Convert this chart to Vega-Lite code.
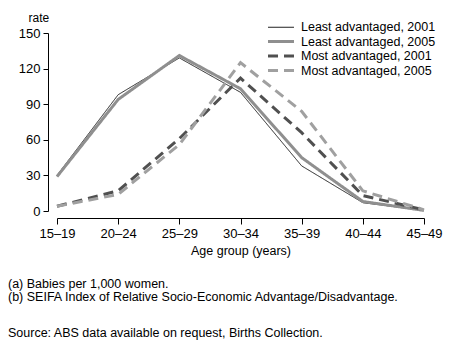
{
  "$schema": "https://vega.github.io/schema/vega-lite/v6.json",
  "autosize": {"type": "none"},
  "width": 367,
  "height": 178,
  "padding": {"left": 57, "top": 33, "right": 35, "bottom": 140},
  "background": "white",
  "config": {
    "font": "Liberation Sans",
    "view": {"stroke": null},
    "axis": {"labelColor": "black", "titleColor": "black", "domainColor": "black", "tickColor": "black", "labelFontWeight": "normal", "titleFontWeight": "normal", "grid": false}
  },
  "title": {
    "text": ["(a) Babies per 1,000 women.", "(b) SEIFA Index of Relative Socio-Economic Advantage/Disadvantage."],
    "subtitle": "Source: ABS data available on request, Births Collection.",
    "orient": "bottom",
    "anchor": "start",
    "frame": "group",
    "dx": -49,
    "offset": 21,
    "fontSize": 12.5,
    "fontWeight": "normal",
    "lineHeight": 13,
    "color": "black",
    "subtitleFontSize": 12.5,
    "subtitleColor": "black",
    "subtitlePadding": 24,
    "font": "Liberation Sans",
    "subtitleFont": "Liberation Sans"
  },
  "data": {
    "values": [
      {"age": "15–19", "series": "Least advantaged, 2001", "rate": 30},
      {"age": "20–24", "series": "Least advantaged, 2001", "rate": 98},
      {"age": "25–29", "series": "Least advantaged, 2001", "rate": 129},
      {"age": "30–34", "series": "Least advantaged, 2001", "rate": 100},
      {"age": "35–39", "series": "Least advantaged, 2001", "rate": 38},
      {"age": "40–44", "series": "Least advantaged, 2001", "rate": 7},
      {"age": "45–49", "series": "Least advantaged, 2001", "rate": 0.5},
      {"age": "15–19", "series": "Least advantaged, 2005", "rate": 29},
      {"age": "20–24", "series": "Least advantaged, 2005", "rate": 94},
      {"age": "25–29", "series": "Least advantaged, 2005", "rate": 131},
      {"age": "30–34", "series": "Least advantaged, 2005", "rate": 103},
      {"age": "35–39", "series": "Least advantaged, 2005", "rate": 45},
      {"age": "40–44", "series": "Least advantaged, 2005", "rate": 8},
      {"age": "45–49", "series": "Least advantaged, 2005", "rate": 0.5},
      {"age": "15–19", "series": "Most advantaged, 2001", "rate": 4},
      {"age": "20–24", "series": "Most advantaged, 2001", "rate": 17},
      {"age": "25–29", "series": "Most advantaged, 2001", "rate": 61},
      {"age": "30–34", "series": "Most advantaged, 2001", "rate": 112},
      {"age": "35–39", "series": "Most advantaged, 2001", "rate": 66},
      {"age": "40–44", "series": "Most advantaged, 2001", "rate": 13},
      {"age": "45–49", "series": "Most advantaged, 2001", "rate": 1},
      {"age": "15–19", "series": "Most advantaged, 2005", "rate": 4},
      {"age": "20–24", "series": "Most advantaged, 2005", "rate": 14},
      {"age": "25–29", "series": "Most advantaged, 2005", "rate": 56},
      {"age": "30–34", "series": "Most advantaged, 2005", "rate": 125},
      {"age": "35–39", "series": "Most advantaged, 2005", "rate": 84},
      {"age": "40–44", "series": "Most advantaged, 2005", "rate": 17},
      {"age": "45–49", "series": "Most advantaged, 2005", "rate": 1}
    ]
  },
  "mark": {"type": "line", "strokeCap": "butt", "strokeJoin": "miter"},
  "encoding": {
    "x": {
      "field": "age", "type": "ordinal",
      "scale": {"type": "point", "padding": 0},
      "axis": {"title": "Age group (years)", "labelAngle": 0, "offset": 7, "tickSize": 6, "labelPadding": 3, "labelFontSize": 13, "titleFontSize": 12.5, "titlePadding": 4}
    },
    "y": {
      "field": "rate", "type": "quantitative",
      "scale": {"domain": [0, 150], "nice": false},
      "axis": {"values": [0, 30, 60, 90, 120, 150], "offset": 9, "tickSize": 5, "labelPadding": 3, "labelFontSize": 13, "title": "rate", "titleAngle": 0, "titleAlign": "left", "titleBaseline": "alphabetic", "titleX": -20, "titleY": -12, "titleFontSize": 12}
    },
    "color": {
      "field": "series", "type": "nominal",
      "scale": {"domain": ["Least advantaged, 2001", "Least advantaged, 2005", "Most advantaged, 2001", "Most advantaged, 2005"], "range": ["#222222", "#8f8f8f", "#505050", "#a0a0a0"]},
      "legend": {"title": null, "orient": "none", "legendX": 217, "legendY": -12, "padding": 0, "symbolType": "M-2.5,0H2.5", "symbolSize": 108, "labelOffset": 13, "labelFontSize": 12.5, "labelColor": "black", "rowPadding": 0.5, "labelFont": "Liberation Sans"}
    },
    "strokeWidth": {
      "field": "series", "type": "ordinal",
      "scale": {"type": "ordinal", "domain": ["Least advantaged, 2001", "Least advantaged, 2005", "Most advantaged, 2001", "Most advantaged, 2005"], "range": [1, 3, 3, 3]},
      "legend": {"title": null, "orient": "none", "legendX": 217, "legendY": -12}
    },
    "strokeDash": {
      "field": "series", "type": "nominal",
      "scale": {"domain": ["Least advantaged, 2001", "Least advantaged, 2005", "Most advantaged, 2001", "Most advantaged, 2005"], "range": [[1, 0], [1, 0], [10, 6], [10, 6]]},
      "legend": {"title": null, "orient": "none", "legendX": 217, "legendY": -12}
    }
  }
}
